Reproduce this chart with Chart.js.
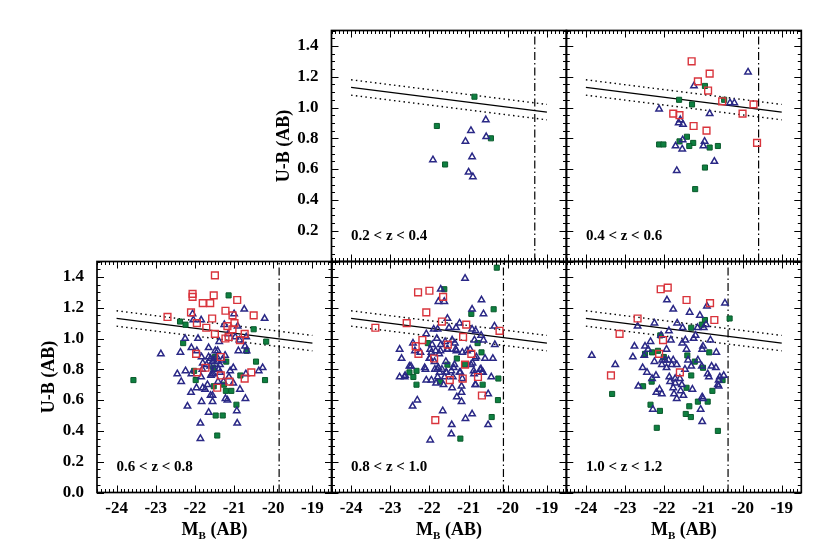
<!DOCTYPE html>
<html>
<head>
<meta charset="utf-8">
<script src="https://cdn.jsdelivr.net/npm/chart.js@4.4.1/dist/chart.umd.min.js"></script>
<style>
  html, body { margin: 0; padding: 0; background: #fff; }
  #wrap { position: relative; width: 830px; height: 554px; }
  #wrap canvas { position: absolute; left: 0; top: 0; }
</style>
</head>
<body>
<div id="wrap"></div>
<script>
// ---- data (M_B, U-B) ----
const zBins = ['0.2 < z < 0.4', '0.4 < z < 0.6', '0.6 < z < 0.8', '0.8 < z < 1.0', '1.0 < z < 1.2'];
const cutMB = [-19.31, -19.59, -19.85, -20.11, -20.37];   // dash-dot limit per bin
const fitX = [-24, -19];
const fitY = [1.13, 0.97];
const fitBand = 0.05;
const xTicks = [-24, -23, -22, -21, -20, -19];
const yTicks = [0.0, 0.2, 0.4, 0.6, 0.8, 1.0, 1.2, 1.4];
const yTicksTop = [0.2, 0.4, 0.6, 0.8, 1.0, 1.2, 1.4];

// 0.2 < z < 0.4
const blue1 = [[-20.56,0.92],[-20.94,0.85],[-21.08,0.78],[-20.55,0.81],[-20.91,0.68],[-21.91,0.66],[-21.00,0.58],[-20.89,0.55]];
const red1 = [];
const green1 = [[-20.85,1.07],[-21.81,0.88],[-21.60,0.63],[-20.43,0.80]];

// 0.4 < z < 0.6
const blue2 = [[-19.86,1.23],[-21.24,1.14],[-22.13,0.99],[-20.32,1.03],[-20.21,1.03],[-20.84,0.96],[-21.59,0.92],[-21.63,0.90],
  [-21.52,0.89],[-21.53,0.79],[-21.71,0.75],[-21.54,0.73],[-20.97,0.78],[-21.00,0.75],[-20.72,0.65],[-21.68,0.59]];
const red2 = [[-21.30,1.30],[-20.84,1.22],[-21.14,1.17],[-20.88,1.11],[-20.52,1.04],[-19.72,1.02],[-21.77,0.96],[-21.61,0.95],
  [-20.00,0.96],[-21.25,0.88],[-20.92,0.85],[-19.63,0.77]];
const green2 = [[-20.96,1.14],[-20.47,1.05],[-21.62,1.05],[-21.29,1.02],[-21.42,0.81],[-21.61,0.78],[-21.26,0.77],[-21.36,0.75],
  [-22.13,0.76],[-22.02,0.76],[-20.84,0.74],[-20.63,0.75],[-20.96,0.61],[-21.21,0.47]];

// 0.6 < z < 0.8
const blue3 = [[-20.74,1.19],[-20.22,1.13],[-21.00,1.16],[-22.06,1.16],[-22.04,1.12],[-21.84,1.12],[-21.25,1.09],[-20.91,1.08],
  [-22.25,1.00],[-21.92,1.00],[-21.38,0.98],[-21.15,1.03],[-20.97,1.01],[-20.86,0.99],[-20.69,1.01],[-20.72,0.95],[-20.68,0.92],
  [-20.89,0.92],[-22.87,0.90],[-22.37,0.91],[-22.09,0.94],[-21.95,0.92],[-21.65,0.94],[-21.48,0.92],[-21.42,0.92],[-21.83,0.88],
  [-21.65,0.88],[-21.44,0.88],[-21.23,0.89],[-21.55,0.85],[-21.44,0.85],[-21.36,0.83],[-21.80,0.84],[-21.61,0.82],[-21.39,0.80],
  [-21.02,0.81],[-20.27,0.81],[-20.37,0.79],[-22.45,0.77],[-22.24,0.79],[-21.81,0.80],[-21.57,0.77],[-21.36,0.78],[-21.10,0.79],
  [-20.70,0.77],[-22.09,0.77],[-21.84,0.75],[-22.35,0.72],[-22.10,0.65],[-21.96,0.68],[-21.74,0.67],[-21.80,0.68],[-21.68,0.70],
  [-21.59,0.76],[-21.53,0.77],[-21.41,0.72],[-21.27,0.72],[-21.13,0.75],[-21.02,0.71],[-20.85,0.67],[-21.60,0.63],[-21.55,0.63],
  [-21.22,0.61],[-21.17,0.60],[-21.83,0.59],[-21.55,0.59],[-20.71,0.61],[-22.19,0.56],[-21.65,0.52],[-20.93,0.53],[-21.86,0.45],
  [-20.92,0.45],[-21.86,0.35],[-21.52,0.86],[-21.60,0.87],[-21.30,0.86],[-21.70,0.83],[-21.50,0.80]];
const red3 = [[-21.49,1.41],[-22.06,1.29],[-22.06,1.27],[-21.80,1.23],[-21.61,1.23],[-21.52,1.28],[-20.92,1.25],[-21.22,1.18],
  [-22.10,1.17],[-22.70,1.14],[-21.71,1.07],[-21.95,1.10],[-21.56,1.13],[-21.04,1.15],[-20.99,1.10],[-21.17,1.08],[-21.04,1.06],
  [-21.49,1.03],[-21.22,1.00],[-21.14,1.01],[-20.85,0.99],[-20.73,1.03],[-20.50,1.15],[-21.97,0.90],[-21.34,0.88],[-21.94,0.78],
  [-21.73,0.81],[-21.34,0.76],[-21.12,0.72],[-20.56,0.78],[-20.73,0.74],[-21.43,0.68]];
const green3 = [[-23.57,0.73],[-22.38,1.11],[-22.24,1.09],[-22.30,0.97],[-21.14,1.28],[-20.50,1.06],[-20.18,0.98],[-20.68,0.92],
  [-20.44,0.85],[-20.21,0.73],[-22.02,0.79],[-21.98,0.73],[-21.53,0.81],[-21.20,0.85],[-21.49,0.88],[-20.84,0.76],[-21.21,0.66],
  [-21.07,0.66],[-21.26,0.70],[-21.52,0.69],[-20.94,0.57],[-21.47,0.50],[-21.29,0.50],[-21.43,0.37]];

// 0.8 < z < 1.0
const blue4 = [[-21.09,1.39],[-21.71,1.32],[-21.77,1.24],[-21.62,1.24],[-20.67,1.25],[-20.91,1.19],[-20.62,1.16],[-21.54,1.13],
  [-21.23,1.10],[-20.34,1.08],[-21.89,1.06],[-21.79,1.06],[-21.50,1.07],[-21.32,1.07],[-20.91,1.06],[-20.82,1.05],[-20.68,1.02],
  [-22.08,1.03],[-21.81,1.00],[-21.60,0.98],[-21.42,0.99],[-20.85,0.99],[-20.62,0.99],[-20.33,0.96],[-22.76,0.93],[-22.71,0.87],
  [-22.42,0.97],[-22.23,0.91],[-21.98,0.93],[-22.00,0.87],[-21.75,0.90],[-21.53,0.93],[-21.33,0.93],[-21.16,0.91],[-20.83,0.87],
  [-20.38,0.87],[-22.47,0.82],[-22.51,0.82],[-22.12,0.81],[-21.86,0.80],[-21.77,0.81],[-21.58,0.85],[-21.38,0.81],[-21.21,0.78],
  [-20.90,0.84],[-20.70,0.80],[-20.66,0.78],[-22.76,0.75],[-22.63,0.75],[-22.08,0.73],[-21.95,0.73],[-21.79,0.75],[-21.61,0.75],
  [-21.40,0.75],[-21.64,0.70],[-21.83,0.71],[-21.42,0.68],[-21.18,0.69],[-20.83,0.70],[-20.42,0.75],[-21.30,0.62],[-21.18,0.65],
  [-21.18,0.59],[-20.50,0.64],[-22.43,0.56],[-22.31,0.60],[-21.66,0.53],[-21.08,0.48],[-20.91,0.51],[-21.43,0.44],[-20.50,0.44],
  [-21.44,0.38],[-21.98,0.34],[-22.37,0.92],[-21.93,0.96],[-21.71,0.96],[-21.95,0.91],[-21.84,0.92],[-21.72,0.92],[-21.55,0.93],
  [-21.35,0.97],[-21.31,0.92],[-21.04,0.92],[-20.96,0.93],[-20.80,0.88],[-20.58,0.87],[-21.99,0.87],[-22.10,0.80],[-21.87,0.85],
  [-21.80,0.80],[-21.68,0.80],[-21.74,0.78],[-21.57,0.78],[-21.44,0.79],[-21.36,0.83],[-21.23,0.78],[-20.94,0.83],[-20.87,0.79],
  [-20.68,0.80],[-22.62,0.76],[-21.57,0.78],[-21.16,0.74],[-20.86,0.77],[-20.63,0.78],[-20.82,0.70]];
const red4 = [[-22.29,1.30],[-22.00,1.31],[-21.65,1.27],[-22.08,1.17],[-23.38,1.07],[-22.58,1.10],[-21.68,1.11],[-21.06,1.09],
  [-20.21,1.05],[-21.14,1.01],[-22.18,0.99],[-22.35,0.95],[-22.28,0.90],[-21.53,0.96],[-21.88,0.87],[-20.93,0.90],[-21.09,0.83],
  [-21.15,0.74],[-21.48,0.73],[-20.76,0.75],[-20.66,0.63],[-21.85,0.47]];
const green4 = [[-20.28,1.46],[-21.62,1.32],[-20.93,1.16],[-20.36,1.19],[-20.77,0.97],[-20.67,0.91],[-21.30,0.87],[-21.09,0.83],
  [-21.54,0.83],[-22.33,0.79],[-22.51,0.78],[-22.41,0.75],[-22.33,0.70],[-21.73,0.72],[-20.64,0.70],[-20.24,0.74],[-20.25,0.60],
  [-20.41,0.49],[-21.21,0.35],[-22.04,0.97]];

// 1.0 < z < 1.2
const blue5 = [[-23.85,0.89],[-23.25,0.83],[-21.93,1.25],[-21.77,1.19],[-21.35,1.17],[-20.91,1.21],[-20.45,1.23],[-22.25,1.10],
  [-22.68,1.08],[-21.67,1.10],[-21.53,1.07],[-21.09,1.15],[-21.15,1.07],[-20.99,1.07],[-20.93,1.09],[-21.88,1.05],[-22.08,1.02],
  [-21.20,1.02],[-21.25,1.00],[-21.46,0.99],[-21.83,0.99],[-21.54,0.97],[-20.82,0.99],[-22.35,0.98],[-22.76,0.95],[-22.51,0.89],
  [-22.80,0.88],[-22.41,0.93],[-21.43,0.93],[-21.01,0.95],[-21.03,0.93],[-20.67,0.91],[-21.94,0.93],[-22.25,0.85],[-22.05,0.86],
  [-21.98,0.86],[-21.89,0.86],[-21.77,0.86],[-22.06,0.83],[-21.94,0.81],[-21.81,0.83],[-21.68,0.83],[-21.39,0.86],[-21.14,0.86],
  [-21.31,0.82],[-21.47,0.80],[-21.04,0.82],[-20.79,0.82],[-20.68,0.81],[-22.55,0.81],[-22.44,0.78],[-22.31,0.74],[-22.21,0.76],
  [-21.87,0.75],[-21.72,0.74],[-21.60,0.74],[-20.89,0.77],[-20.86,0.75],[-20.58,0.75],[-20.48,0.76],[-20.61,0.73],[-20.61,0.69],
  [-22.66,0.69],[-21.85,0.72],[-21.72,0.71],[-21.55,0.70],[-21.77,0.68],[-22.12,0.67],[-22.06,0.64],[-22.20,0.65],[-21.58,0.66],
  [-21.28,0.67],[-21.03,0.62],[-21.75,0.64],[-21.51,0.63],[-22.29,0.54],[-21.07,0.54],[-21.03,0.46],[-22.49,0.95],[-21.68,0.61],
  [-21.01,0.61],[-20.63,0.70]];
const red5 = [[-22.09,1.32],[-21.91,1.33],[-21.43,1.25],[-20.83,1.23],[-20.72,1.12],[-22.68,1.13],[-23.14,1.03],[-22.03,0.99],
  [-22.13,0.90],[-21.60,0.78],[-23.36,0.76]];
const green5 = [[-20.33,1.13],[-20.96,1.12],[-21.04,1.09],[-21.31,1.07],[-22.10,1.02],[-22.16,0.92],[-22.49,0.90],[-22.31,0.91],
  [-22.01,0.88],[-21.41,0.89],[-20.85,0.91],[-21.22,0.85],[-21.01,0.81],[-21.31,0.76],[-22.32,0.72],[-22.54,0.69],[-21.43,0.68],
  [-20.77,0.66],[-20.51,0.73],[-23.33,0.64],[-21.14,0.59],[-20.89,0.59],[-21.36,0.56],[-22.35,0.57],[-22.11,0.53],[-21.45,0.51],
  [-21.32,0.49],[-22.19,0.42],[-20.63,0.40]];

// ---- layout of the five panels (row 0 = top) ----
const colLeft = [97, 331.5, 566.3];
const rowTop = [30.5, 261.5];
const panelW = 235, panelH = 231;
const panels = [
  { row: 0, col: 1, blue: blue1, red: red1, green: green1 },
  { row: 0, col: 2, blue: blue2, red: red2, green: green2 },
  { row: 1, col: 0, blue: blue3, red: red3, green: green3 },
  { row: 1, col: 1, blue: blue4, red: red4, green: green4 },
  { row: 1, col: 2, blue: blue5, red: red5, green: green5 }
];

const BLUE = '#2a2886', RED = '#d9343c', GREEN = '#0e8040';
const SERIF = '"Liberation Serif", "Times New Roman", serif';
const toXY = arr => arr.map(p => ({ x: p[0], y: p[1] }));

const framePlugin = {
  id: 'frame',
  afterDatasetsDraw(chart, args, opts) {
    const { ctx, chartArea: a, scales: { x, y } } = chart;
    ctx.save();
    ctx.strokeStyle = '#000';
    ctx.lineWidth = 1;
    ctx.beginPath();
    for (let i = 0; i <= 60; i++) {
      const v = -24.5 + i * 0.1;
      const px = Math.round(x.getPixelForValue(v)) + 0.5;
      const len = Math.abs(v - Math.round(v)) < 1e-6 ? 7 : 3.5;
      ctx.moveTo(px, a.bottom); ctx.lineTo(px, a.bottom - len);
      ctx.moveTo(px, a.top); ctx.lineTo(px, a.top + len);
    }
    for (let i = 0; i <= 30; i++) {
      const py = Math.round(y.getPixelForValue(i * 0.05)) + 0.5;
      const len = i % 4 === 0 ? 7 : 3.5;
      ctx.moveTo(a.left, py); ctx.lineTo(a.left + len, py);
      ctx.moveTo(a.right, py); ctx.lineTo(a.right - len, py);
    }
    ctx.stroke();
    ctx.lineWidth = 1.7;
    ctx.strokeRect(a.left, a.top, a.right - a.left, a.bottom - a.top);

    ctx.fillStyle = '#000';
    ctx.font = 'bold 15px ' + SERIF;
    ctx.textAlign = 'left';
    ctx.textBaseline = 'alphabetic';
    ctx.fillText(opts.label, x.getPixelForValue(-24), a.bottom - 22);

    if (opts.yTitle) {
      ctx.save();
      ctx.translate(a.left - 43, (a.top + a.bottom) / 2);
      ctx.rotate(-Math.PI / 2);
      ctx.font = 'bold 18px ' + SERIF;
      ctx.textAlign = 'center';
      ctx.textBaseline = 'alphabetic';
      ctx.fillText('U-B (AB)', 0, 0);
      ctx.restore();
    }
    if (opts.xTitle) {
      const big = 'bold 18px ' + SERIF, small = 'bold 11px ' + SERIF;
      ctx.font = big;
      const wM = ctx.measureText('M').width;
      const wRest = ctx.measureText(' (AB)').width;
      ctx.font = small;
      const wB = ctx.measureText('B').width;
      let sx = (a.left + a.right) / 2 - (wM + wB + wRest) / 2;
      const base = 535;
      ctx.textAlign = 'left';
      ctx.font = big; ctx.fillText('M', sx, base);
      ctx.font = small; ctx.fillText('B', sx + wM, base + 4);
      ctx.font = big; ctx.fillText(' (AB)', sx + wM + wB, base);
    }
    ctx.restore();
  }
};

const wrap = document.getElementById('wrap');
panels.forEach((p, k) => {
  const showX = p.row === 1;
  const showY = p.col === 0 || (p.row === 0 && p.col === 1);
  const L = colLeft[p.col], T = rowTop[p.row];
  const R = L + panelW, B = T + panelH;
  const yAxisW = 40, xAxisH = 34;

  const cv = document.createElement('canvas');
  cv.width = 830; cv.height = 554;
  cv.style.width = '830px'; cv.style.height = '554px';
  wrap.appendChild(cv);

  const lineSet = (ys, dash, width) => ({
    data: toXY([[fitX[0], ys[0]], [fitX[1], ys[1]]]),
    showLine: true, pointRadius: 0, borderColor: '#000', borderWidth: width,
    borderDash: dash, order: 10
  });

  new Chart(cv, {
    type: 'scatter',
    data: {
      datasets: [
        { data: toXY(p.red), pointStyle: 'rect', pointRadius: 4.8, borderColor: RED,
          backgroundColor: 'rgba(255,255,255,0)', borderWidth: 1.4, order: 0 },
        { data: toXY(p.blue), pointStyle: 'triangle', pointRadius: 3.7, borderColor: BLUE,
          backgroundColor: 'rgba(255,255,255,0)', borderWidth: 1.5, order: 1 },
        { data: toXY(p.green), pointStyle: 'rect', pointRadius: 3.6, borderColor: '#0a5a2c',
          backgroundColor: GREEN, borderWidth: 1, order: 2 },
        lineSet(fitY, [], 1.3),
        lineSet([fitY[0] + fitBand, fitY[1] + fitBand], [1.5, 3.3], 1.4),
        lineSet([fitY[0] - fitBand, fitY[1] - fitBand], [1.5, 3.3], 1.4),
        { data: toXY([[cutMB[k], 0], [cutMB[k], 1.5]]), showLine: true, pointRadius: 0,
          borderColor: '#000', borderWidth: 1.2, borderDash: [8, 3, 1.5, 3], order: 10 }
      ]
    },
    options: {
      responsive: false,
      animation: false,
      devicePixelRatio: 1,
      events: [],
      layout: {
        padding: {
          left: showY ? L - yAxisW : L,
          top: T,
          right: 830 - R,
          bottom: showX ? 554 - B - xAxisH : 554 - B
        }
      },
      plugins: {
        legend: { display: false },
        tooltip: { enabled: false },
        frame: { label: zBins[k], yTitle: showY, xTitle: showX }
      },
      scales: {
        x: {
          type: 'linear', min: -24.5, max: -18.5, display: showX,
          grid: { display: false }, border: { display: false },
          afterBuildTicks: s => { s.ticks = xTicks.map(v => ({ value: v })); },
          afterFit: s => { s.height = showX ? xAxisH : 0; },
          ticks: { font: { family: SERIF, weight: 'bold', size: 17 }, color: '#000', padding: -2,
            maxRotation: 0, autoSkip: false, callback: v => String(v) }
        },
        y: {
          type: 'linear', min: 0, max: 1.5, display: showY,
          grid: { display: false }, border: { display: false },
          afterBuildTicks: s => { s.ticks = (p.row === 0 ? yTicksTop : yTicks).map(v => ({ value: v })); },
          afterFit: s => { s.width = showY ? yAxisW : 0; },
          ticks: { font: { family: SERIF, weight: 'bold', size: 17 }, color: '#000', padding: 5,
            autoSkip: false, callback: v => v.toFixed(1) }
        }
      }
    },
    plugins: [framePlugin]
  });
});
</script>
</body>
</html>
